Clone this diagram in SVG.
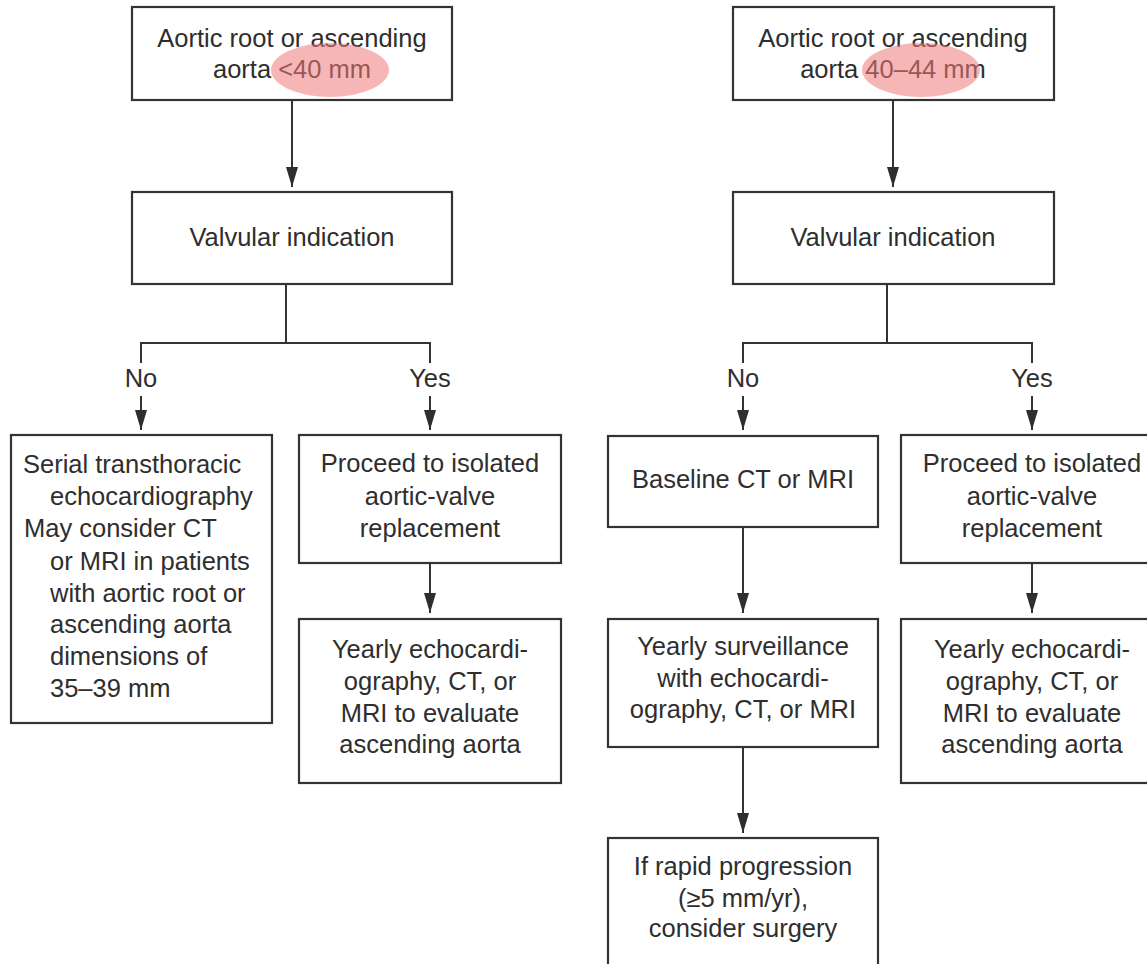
<svg xmlns="http://www.w3.org/2000/svg" width="1147" height="964" viewBox="0 0 1147 964">
<style>
  .box { fill: #ffffff; stroke: #333333; stroke-width: 2.2; }
  .t { font-family: "Liberation Sans", Arial, sans-serif; font-size: 25.5px; fill: #2e2e2e; }
  .c { text-anchor: middle; }
  .l { text-anchor: start; }
  .conn { fill: none; stroke: #333333; stroke-width: 2; }
  .hl { fill: #f07a7a; opacity: 0.55; }
</style>
<defs>
  <marker id="arr" markerUnits="userSpaceOnUse" markerWidth="20" markerHeight="12" refX="20" refY="6" orient="auto" viewBox="0 0 20 12">
    <path d="M0,0 L20,6 L0,12 Z" fill="#2e2e2e"/>
  </marker>
</defs>
<rect width="1147" height="964" fill="#ffffff"/>

<g id="connectors">
  <path class="conn" d="M292,100 L292,187" marker-end="url(#arr)"/>
  <path class="conn" d="M286,284 L286,343 M141,363 L141,343 L430,343 L430,363"/>
  <path class="conn" d="M141,396 L141,430" marker-end="url(#arr)"/>
  <path class="conn" d="M430,396 L430,430" marker-end="url(#arr)"/>
  <path class="conn" d="M430,563 L430,613" marker-end="url(#arr)"/>

  <path class="conn" d="M893,100 L893,187" marker-end="url(#arr)"/>
  <path class="conn" d="M887,284 L887,343 M743,363 L743,343 L1032,343 L1032,363"/>
  <path class="conn" d="M743,396 L743,430" marker-end="url(#arr)"/>
  <path class="conn" d="M1032,396 L1032,430" marker-end="url(#arr)"/>
  <path class="conn" d="M743,527 L743,613" marker-end="url(#arr)"/>
  <path class="conn" d="M1032,563 L1032,613" marker-end="url(#arr)"/>
  <path class="conn" d="M743,747 L743,833" marker-end="url(#arr)"/>

  <text class="t c" x="141" y="387">No</text>
  <text class="t c" x="430" y="387">Yes</text>
  <text class="t c" x="743" y="387">No</text>
  <text class="t c" x="1032" y="387">Yes</text>
</g>

<g id="top-left">
  <rect class="box" x="132" y="7" width="320" height="93"/>
  <text class="t c" x="292" y="47">Aortic root or ascending</text>
  <text class="t c" x="292" y="78">aorta &lt;40 mm</text>
  <ellipse class="hl" cx="330" cy="70" rx="59" ry="27"/>
</g>

<g id="top-right">
  <rect class="box" x="733" y="7" width="321" height="93"/>
  <text class="t c" x="893" y="47">Aortic root or ascending</text>
  <text class="t c" x="893" y="78">aorta 40–44 mm</text>
  <ellipse class="hl" cx="921" cy="70" rx="59" ry="27"/>
</g>

<g id="valvular-left">
  <rect class="box" x="132" y="192" width="320" height="92"/>
  <text class="t c" x="292" y="246">Valvular indication</text>
</g>

<g id="valvular-right">
  <rect class="box" x="733" y="192" width="321" height="92"/>
  <text class="t c" x="893" y="246">Valvular indication</text>
</g>

<g id="serial-tte">
  <rect class="box" x="11" y="435" width="261" height="288"/>
  <text class="t l" x="23" y="473">Serial transthoracic</text>
  <text class="t l" x="50" y="505">echocardiography</text>
  <text class="t l" x="24" y="537">May consider CT</text>
  <text class="t l" x="50" y="570">or MRI in patients</text>
  <text class="t l" x="50" y="602">with aortic root or</text>
  <text class="t l" x="50" y="633">ascending aorta</text>
  <text class="t l" x="50" y="665">dimensions of</text>
  <text class="t l" x="50" y="697">35–39 mm</text>
</g>

<g id="avr-left">
  <rect class="box" x="299" y="435" width="262" height="128"/>
  <text class="t c" x="430" y="472">Proceed to isolated</text>
  <text class="t c" x="430" y="505">aortic-valve</text>
  <text class="t c" x="430" y="537">replacement</text>
</g>

<g id="yearly-left">
  <rect class="box" x="299" y="619" width="262" height="164"/>
  <text class="t c" x="430" y="658">Yearly echocardi-</text>
  <text class="t c" x="430" y="690">ography, CT, or</text>
  <text class="t c" x="430" y="722">MRI to evaluate</text>
  <text class="t c" x="430" y="753">ascending aorta</text>
</g>

<g id="baseline">
  <rect class="box" x="608" y="436" width="270" height="91"/>
  <text class="t c" x="743" y="488">Baseline CT or MRI</text>
</g>

<g id="surveillance">
  <rect class="box" x="608" y="619" width="270" height="128"/>
  <text class="t c" x="743" y="655">Yearly surveillance</text>
  <text class="t c" x="743" y="687">with echocardi-</text>
  <text class="t c" x="743" y="718">ography, CT, or MRI</text>
</g>

<g id="rapid">
  <rect class="box" x="608" y="838" width="270" height="140"/>
  <text class="t c" x="743" y="875">If rapid progression</text>
  <text class="t c" x="743" y="907">(≥5 mm/yr),</text>
  <text class="t c" x="743" y="937">consider surgery</text>
</g>

<g id="avr-right">
  <rect class="box" x="901" y="435" width="260" height="128"/>
  <text class="t c" x="1032" y="472">Proceed to isolated</text>
  <text class="t c" x="1032" y="505">aortic-valve</text>
  <text class="t c" x="1032" y="537">replacement</text>
</g>

<g id="yearly-right">
  <rect class="box" x="901" y="619" width="260" height="164"/>
  <text class="t c" x="1032" y="658">Yearly echocardi-</text>
  <text class="t c" x="1032" y="690">ography, CT, or</text>
  <text class="t c" x="1032" y="722">MRI to evaluate</text>
  <text class="t c" x="1032" y="753">ascending aorta</text>
</g>
</svg>
